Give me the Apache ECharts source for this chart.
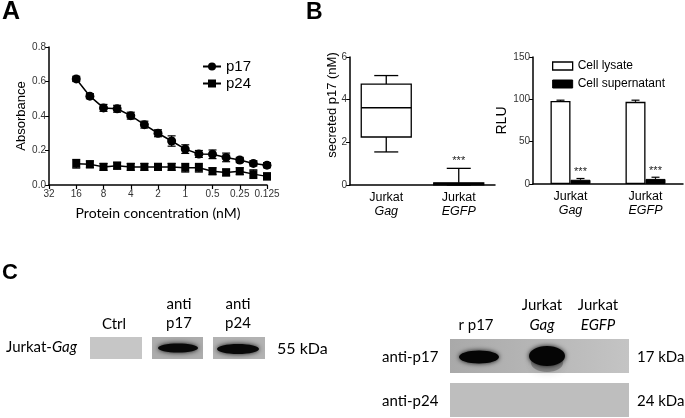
<!DOCTYPE html>
<html><head><meta charset="utf-8">
<script src="https://cdn.jsdelivr.net/npm/echarts@6/dist/echarts.min.js"></script>
<style>html,body{margin:0;padding:0;background:#fff}#c{width:685px;height:418px}</style>
</head><body><div id="c"></div>
<script>
// ---------- Panel A data ----------
const concentrations = [16, 11.31, 8, 5.657, 4, 2.828, 2, 1.414, 1, 0.7071, 0.5, 0.3536, 0.25, 0.1768, 0.125];
const concTickLabels = ['32', '16', '8', '4', '2', '1', '0.5', '0.25', '0.125'];
const p17Mean = [0.615, 0.515, 0.447, 0.442, 0.402, 0.350, 0.300, 0.255, 0.208, 0.180, 0.178, 0.160, 0.145, 0.125, 0.115];
const p17Err  = [0.015, 0.015, 0.020, 0.020, 0.020, 0.020, 0.020, 0.030, 0.025, 0.020, 0.025, 0.025, 0.015, 0.015, 0.015];
const p24Mean = [0.123, 0.120, 0.105, 0.112, 0.105, 0.105, 0.105, 0.105, 0.100, 0.100, 0.080, 0.073, 0.080, 0.063, 0.050];
const p24Err  = [0.025, 0.020, 0.020, 0.020, 0.020, 0.020, 0.020, 0.020, 0.025, 0.025, 0.020, 0.020, 0.020, 0.025, 0.020];

// ---------- Panel B (left) data ----------
const boxCategories = [['Jurkat', 'Gag'], ['Jurkat', 'EGFP']];
const boxStats = [[1.55, 2.25, 3.62, 4.73, 5.13], [0, 0.02, 0.05, 0.10, 0.78]]; // min, Q1, median, Q3, max
const boxSig = ['', '***'];

// ---------- Panel B (right) data ----------
const rluCategories = [['Jurkat', 'Gag'], ['Jurkat', 'EGFP']];
const lysateMean = [98, 97];
const lysateErr = [1, 2];
const supernatantMean = [5, 6];
const supernatantErr = [1.5, 2];
const supernatantSig = ['***', '***'];

const AR = "'Liberation Sans', Arial, sans-serif";
const CAL = "Lato, 'Open Sans', sans-serif";
const BLACK = '#000';

function errBarRender(capW, offset, onlyUp) {
  return function (params, api) {
    const x = api.value(0), lo = api.value(1), hi = api.value(2);
    const a = api.coord([x, lo]), b = api.coord([x, hi]);
    const ox = offset || 0;
    const st = { stroke: BLACK, lineWidth: 1.2, fill: null };
    const kids = [
      { type: 'line', shape: { x1: a[0] + ox, y1: a[1], x2: b[0] + ox, y2: b[1] }, style: st },
      { type: 'line', shape: { x1: b[0] + ox - capW / 2, y1: b[1], x2: b[0] + ox + capW / 2, y2: b[1] }, style: st }
    ];
    if (!onlyUp) kids.push({ type: 'line', shape: { x1: a[0] + ox - capW / 2, y1: a[1], x2: a[0] + ox + capW / 2, y2: a[1] }, style: st });
    return { type: 'group', children: kids };
  };
}

const catLabel = {
  color: BLACK, fontFamily: AR, margin: 6,
  formatter: function (v) { const p = v.split('|'); return '{a|' + p[0] + '}\n{b|' + p[1] + '}'; },
  rich: {
    a: { fontSize: 12.5, fontFamily: AR, color: BLACK, lineHeight: 14 },
    b: { fontSize: 12.5, fontFamily: AR, fontStyle: 'italic', color: BLACK, lineHeight: 14 }
  }
};
const axLine = { lineStyle: { color: BLACK, width: 1.5 } };
const axTick = { length: 4, lineStyle: { color: BLACK, width: 1.2 } };
const tickLabel = { color: '#333', fontSize: 10, fontFamily: AR, margin: 3 };

const chart = echarts.init(document.getElementById('c'));
const option = {
  animation: false,
  backgroundColor: '#fff',
  grid: [
    { left: 49, top: 47, width: 218, height: 138 },
    { left: 350, top: 57, width: 145, height: 128 },
    { left: 533, top: 57, width: 150, height: 127 }
  ],
  xAxis: [
    {
      gridIndex: 0, type: 'log', logBase: 2, min: 0.125, max: 32, inverse: true, splitNumber: 8,
      axisLine: axLine, axisTick: axTick, splitLine: { show: false },
      axisLabel: Object.assign({}, tickLabel, { margin: 4, formatter: function (v) { const s = String(+(+v).toPrecision(3)); return concTickLabels.indexOf(s) >= 0 ? s : ''; } }),
      name: 'Protein concentration (nM)', nameLocation: 'middle', nameGap: 21,
      nameTextStyle: { fontFamily: CAL, fontSize: 14, color: BLACK }
    },
    {
      gridIndex: 1, type: 'category', data: boxCategories.map(c => c.join('|')),
      axisLine: axLine, axisTick: Object.assign({ alignWithLabel: true }, axTick), axisLabel: catLabel
    },
    {
      gridIndex: 2, type: 'category', data: rluCategories.map(c => c.join('|')),
      axisLine: axLine, axisTick: Object.assign({ alignWithLabel: true }, axTick), axisLabel: catLabel
    }
  ],
  yAxis: [
    {
      gridIndex: 0, type: 'value', min: 0, max: 0.8, interval: 0.2,
      axisLine: { show: true, lineStyle: { color: BLACK, width: 1.5 } }, axisTick: { show: true, length: 4, lineStyle: { color: BLACK } },
      splitLine: { show: false },
      axisLabel: Object.assign({}, tickLabel, { formatter: v => v.toFixed(1) }),
      name: 'Absorbance', nameLocation: 'middle', nameGap: 21, nameRotate: 90,
      nameTextStyle: { fontFamily: AR, fontSize: 13, color: BLACK }
    },
    {
      gridIndex: 1, type: 'value', min: 0, max: 6, interval: 2,
      axisLine: { show: true, lineStyle: { color: BLACK, width: 1.5 } }, axisTick: { show: true, length: 4, lineStyle: { color: BLACK } },
      splitLine: { show: false }, axisLabel: tickLabel
    },
    {
      gridIndex: 2, type: 'value', min: 0, max: 150, interval: 50,
      axisLine: { show: true, lineStyle: { color: BLACK, width: 1.5 } }, axisTick: { show: true, length: 4, lineStyle: { color: BLACK } },
      splitLine: { show: false }, axisLabel: tickLabel,
      name: 'RLU', nameLocation: 'middle', nameGap: 20, nameRotate: 90,
      nameTextStyle: { fontFamily: AR, fontSize: 14, color: BLACK }
    }
  ],
  legend: [
    {
      left: 197, top: 54, orient: 'vertical', itemWidth: 18, itemHeight: 10, itemGap: 2,
      textStyle: { fontFamily: AR, fontSize: 15, color: BLACK }, data: ['p17', 'p24'], selectedMode: false
    },
    {
      left: 547, top: 55, orient: 'vertical', itemWidth: 20, itemHeight: 8, itemGap: 6,
      textStyle: { fontFamily: AR, fontSize: 12, color: BLACK }, selectedMode: false,
      data: [
        { name: 'Cell lysate', icon: 'rect', itemStyle: { color: '#fff', borderColor: BLACK, borderWidth: 1.3 } },
        { name: 'Cell supernatant', icon: 'rect', itemStyle: { color: BLACK, borderColor: BLACK, borderWidth: 1 } }
      ]
    }
  ],
  series: [
    {
      name: 'p17', type: 'line', xAxisIndex: 0, yAxisIndex: 0,
      data: concentrations.map((c, i) => [c, p17Mean[i]]),
      symbol: 'circle', symbolSize: 9, lineStyle: { color: BLACK, width: 1.5 }, itemStyle: { color: BLACK }, z: 3
    },
    {
      name: 'p24', type: 'line', xAxisIndex: 0, yAxisIndex: 0,
      data: concentrations.map((c, i) => [c, p24Mean[i]]),
      symbol: 'rect', symbolSize: 8, lineStyle: { color: BLACK, width: 1.5 }, itemStyle: { color: BLACK }, z: 3
    },
    {
      type: 'custom', xAxisIndex: 0, yAxisIndex: 0, renderItem: errBarRender(8, 0, false),
      encode: { x: 0, y: [1, 2] }, data: concentrations.map((c, i) => [c, p17Mean[i] - p17Err[i], p17Mean[i] + p17Err[i]]), z: 2
    },
    {
      type: 'custom', xAxisIndex: 0, yAxisIndex: 0, renderItem: errBarRender(8, 0, false),
      encode: { x: 0, y: [1, 2] }, data: concentrations.map((c, i) => [c, p24Mean[i] - p24Err[i], p24Mean[i] + p24Err[i]]), z: 2
    },
    {
      type: 'custom', xAxisIndex: 1, yAxisIndex: 1,
      encode: { x: 0, y: [1, 2, 3, 4, 5] },
      data: boxStats.map((s, i) => [i].concat(s)),
      renderItem: function (params, api) {
        const i = api.value(0);
        const v = [1, 2, 3, 4, 5].map(k => api.value(k));
        const p = v.map(val => api.coord([i, val]));
        const cx = p[0][0], w = 50, cap = 24;
        const st = { stroke: BLACK, lineWidth: 1.3, fill: null };
        const kids = [
          { type: 'line', shape: { x1: cx, y1: p[0][1], x2: cx, y2: p[1][1] }, style: st },
          { type: 'line', shape: { x1: cx, y1: p[3][1], x2: cx, y2: p[4][1] }, style: st },
          { type: 'line', shape: { x1: cx - cap / 2, y1: p[0][1], x2: cx + cap / 2, y2: p[0][1] }, style: st },
          { type: 'line', shape: { x1: cx - cap / 2, y1: p[4][1], x2: cx + cap / 2, y2: p[4][1] }, style: st },
          { type: 'rect', shape: { x: cx - w / 2, y: p[3][1], width: w, height: Math.max(p[1][1] - p[3][1], 2) }, style: { stroke: BLACK, lineWidth: 1.3, fill: p[1][1] - p[3][1] < 4 ? BLACK : '#fff' } },
          { type: 'line', shape: { x1: cx - w / 2, y1: p[2][1], x2: cx + w / 2, y2: p[2][1] }, style: st }
        ];
        if (boxSig[i]) kids.push({ type: 'text', x: cx, y: p[4][1] - 2, style: { text: boxSig[i], fontSize: 11, fontFamily: AR, fill: '#222', align: 'center', verticalAlign: 'bottom' } });
        return { type: 'group', children: kids };
      }, z: 2
    },
    {
      name: 'Cell lysate', type: 'bar', xAxisIndex: 2, yAxisIndex: 2, data: lysateMean,
      barWidth: 20, barGap: '0%', itemStyle: { color: '#fff', borderColor: BLACK, borderWidth: 1.3 }
    },
    {
      name: 'Cell supernatant', type: 'bar', xAxisIndex: 2, yAxisIndex: 2, data: supernatantMean,
      barWidth: 20, barGap: '0%', itemStyle: { color: BLACK, borderColor: BLACK, borderWidth: 1 }
    },
    {
      type: 'custom', xAxisIndex: 2, yAxisIndex: 2, renderItem: errBarRender(8, -10, true),
      encode: { x: 0, y: [1, 2] }, data: lysateMean.map((m, i) => [i, m, m + lysateErr[i]]), z: 3
    },
    {
      type: 'custom', xAxisIndex: 2, yAxisIndex: 2,
      encode: { x: 0, y: [1, 2] }, data: supernatantMean.map((m, i) => [i, m, m + supernatantErr[i]]), z: 3,
      renderItem: function (params, api) {
        const g = errBarRender(8, 10, true)(params, api);
        const b = api.coord([api.value(0), api.value(2)]);
        g.children.push({ type: 'text', x: b[0] + 10, y: b[1] - 1, style: { text: supernatantSig[params.dataIndex], fontSize: 11, fontFamily: AR, fill: '#222', align: 'center', verticalAlign: 'bottom' } });
        return g;
      }
    }
  ],
  graphic: [
    // panel letters
    { type: 'text', left: 2, top: 0, style: { text: 'A', font: 'bold 25px ' + AR, fill: BLACK } },
    { type: 'text', left: 306, top: 1, style: { text: 'B', font: 'bold 23px ' + AR, fill: BLACK } },
    { type: 'text', left: 2, top: 262, style: { text: 'C', font: 'bold 22px ' + AR, fill: BLACK } },
    // B left y-axis title
    { type: 'text', x: 332, y: 105, rotation: Math.PI / 2, style: { text: 'secreted p17 (nM)', fontSize: 13, fontFamily: AR, fill: BLACK, align: 'center', verticalAlign: 'middle' } },
    // C left
    { type: 'text', x: 6, y: 347, style: { text: '{a|Jurkat-}{b|Gag}', fontFamily: CAL, verticalAlign: 'middle', rich: { a: { fontSize: 15, fontFamily: CAL, fill: BLACK }, b: { fontSize: 15, fontFamily: CAL, fontStyle: 'italic', fill: BLACK } } } },
    { type: 'text', x: 114, y: 324, style: { text: 'Ctrl', fontSize: 15, fontFamily: CAL, fill: BLACK, align: 'center', verticalAlign: 'middle' } },
    { type: 'text', x: 179, y: 314, style: { text: 'anti\np17', fontSize: 15, lineHeight: 19, fontFamily: CAL, fill: BLACK, align: 'center', verticalAlign: 'middle' } },
    { type: 'text', x: 238, y: 314, style: { text: 'anti\np24', fontSize: 15, lineHeight: 19, fontFamily: CAL, fill: BLACK, align: 'center', verticalAlign: 'middle' } },
    { type: 'rect', shape: { x: 90, y: 337, width: 52, height: 22 }, style: { fill: '#c6c6c6' } },
    { type: 'rect', shape: { x: 152, y: 337, width: 51, height: 22 }, style: { fill: '#acacac' } },
    { type: 'rect', shape: { x: 213, y: 337, width: 52, height: 22 }, style: { fill: '#b2b2b2' } },
    { type: 'ellipse', shape: { cx: 178, cy: 348, rx: 20, ry: 4.5 }, style: { fill: '#080808', shadowBlur: 5, shadowColor: '#111' } },
    { type: 'ellipse', shape: { cx: 238, cy: 349, rx: 21, ry: 5 }, style: { fill: '#080808', shadowBlur: 5, shadowColor: '#111' } },
    { type: 'text', x: 277, y: 349, style: { text: '55 kDa', fontSize: 16, fontFamily: CAL, fill: BLACK, verticalAlign: 'middle' } },
    // C right
    { type: 'text', x: 476, y: 325, style: { text: 'r p17', fontSize: 15, fontFamily: CAL, fill: BLACK, align: 'center', verticalAlign: 'middle' } },
    { type: 'text', x: 542, y: 315, style: { text: '{a|Jurkat}\n{b|Gag}', align: 'center', verticalAlign: 'middle', rich: { a: { fontSize: 15, fontFamily: CAL, fill: BLACK, lineHeight: 20, align: 'center' }, b: { fontSize: 15, fontFamily: CAL, fontStyle: 'italic', fill: BLACK, lineHeight: 20, align: 'center' } } } },
    { type: 'text', x: 598, y: 315, style: { text: '{a|Jurkat}\n{b|EGFP}', align: 'center', verticalAlign: 'middle', rich: { a: { fontSize: 15, fontFamily: CAL, fill: BLACK, lineHeight: 20, align: 'center' }, b: { fontSize: 15, fontFamily: CAL, fontStyle: 'italic', fill: BLACK, lineHeight: 20, align: 'center' } } } },
    { type: 'rect', shape: { x: 450, y: 339, width: 179, height: 34 }, style: { fill: new echarts.graphic.LinearGradient(0, 0, 1, 0, [{ offset: 0, color: '#a9a9a9' }, { offset: 1, color: '#c4c4c4' }]) } },
    { type: 'rect', shape: { x: 450, y: 383, width: 179, height: 34 }, style: { fill: '#bebebe' } },
    { type: 'ellipse', shape: { cx: 479, cy: 357, rx: 20, ry: 6.5 }, style: { fill: '#050505', shadowBlur: 5, shadowColor: '#111' } },
    { type: 'ellipse', shape: { cx: 547, cy: 363, rx: 16, ry: 9 }, style: { fill: 'rgba(50,50,50,0.35)', shadowBlur: 8, shadowColor: 'rgba(50,50,50,0.5)' } },
    { type: 'ellipse', shape: { cx: 547, cy: 356, rx: 18, ry: 10 }, style: { fill: '#050505', shadowBlur: 5, shadowColor: '#111' } },
    { type: 'text', x: 382, y: 357, style: { text: 'anti-p17', fontSize: 15, fontFamily: CAL, fill: BLACK, verticalAlign: 'middle' } },
    { type: 'text', x: 382, y: 401, style: { text: 'anti-p24', fontSize: 15, fontFamily: CAL, fill: BLACK, verticalAlign: 'middle' } },
    { type: 'text', x: 637, y: 357, style: { text: '17 kDa', fontSize: 15, fontFamily: CAL, fill: BLACK, verticalAlign: 'middle' } },
    { type: 'text', x: 637, y: 401, style: { text: '24 kDa', fontSize: 15, fontFamily: CAL, fill: BLACK, verticalAlign: 'middle' } }
  ]
};
chart.setOption(option);
</script>
</body></html>
